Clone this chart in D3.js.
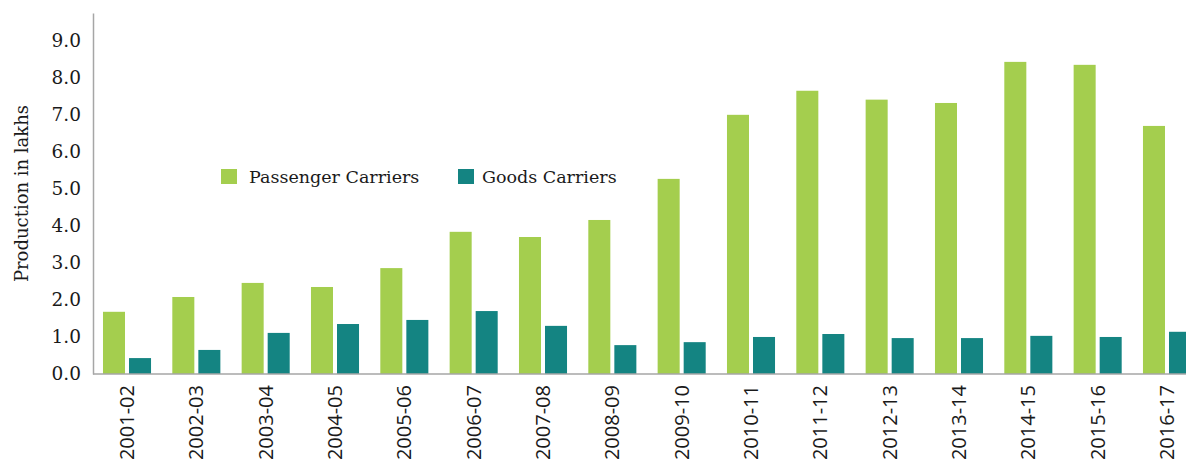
<!DOCTYPE html>
<html>
<head>
<meta charset="utf-8">
<script src="https://cdn.jsdelivr.net/npm/d3@7"></script>
<style>
  html, body { margin: 0; padding: 0; background: #fff; }
  svg { display: block; }
</style>
</head>
<body>
<svg id="chart" width="1186" height="461"></svg>
<script>
// Annual production of commercial three-wheelers (lakhs)
const years = ["2001-02","2002-03","2003-04","2004-05","2005-06","2006-07","2007-08","2008-09",
               "2009-10","2010-11","2011-12","2012-13","2013-14","2014-15","2015-16","2016-17"];
const passengerCarriers = [1.68, 2.08, 2.46, 2.35, 2.86, 3.84, 3.70, 4.16, 5.27, 7.00, 7.65, 7.41, 7.32, 8.43, 8.35, 6.70];
const goodsCarriers     = [0.43, 0.65, 1.11, 1.35, 1.46, 1.70, 1.30, 0.78, 0.86, 1.00, 1.08, 0.97, 0.97, 1.03, 1.00, 1.14];
const seriesNames = ["Passenger Carriers", "Goods Carriers"];
const yTicks = [0, 1, 2, 3, 4, 5, 6, 7, 8, 9];

const colors = ["#a4ce4e", "#148482"];
const serif = "'DejaVu Serif', serif";
const sans = "'Open Sans', sans-serif";

const svg = d3.select("#chart");
const left = 93, bottom = 374;

const x0 = d3.scaleBand().domain(years).range([left, 1201])
  .paddingInner(0.307).paddingOuter(0.144);
const x1 = d3.scaleBand().domain([0, 1]).range([0, x0.bandwidth()]).paddingInner(0.154);
const y = d3.scaleLinear().domain([0, 9.75]).range([bottom, 13]);

const data = years.map((yr, i) => ({ yr, vals: [passengerCarriers[i], goodsCarriers[i]] }));

// bars
const groups = svg.append("g").selectAll("g").data(data).join("g")
  .attr("transform", d => `translate(${x0(d.yr)},0)`);
groups.selectAll("rect").data(d => d.vals.map((v, k) => ({ v, k }))).join("rect")
  .attr("x", d => x1(d.k))
  .attr("width", x1.bandwidth())
  .attr("y", d => y(d.v))
  .attr("height", d => y(0) - y(d.v))
  .attr("fill", d => colors[d.k]);

// y axis
const yAxis = svg.append("g").attr("transform", `translate(${left},0)`)
  .call(d3.axisLeft(y).tickValues(yTicks).tickSize(0).tickPadding(12).tickFormat(d3.format(".1f")));
yAxis.select(".domain").attr("stroke", "#a6a6a6").attr("stroke-width", 1.5);
yAxis.selectAll("text").attr("font-family", serif).attr("font-size", 18.5).attr("fill", "#1a1a1a");

// x axis
const xAxis = svg.append("g").attr("transform", `translate(0,${bottom})`)
  .call(d3.axisBottom(x0).tickSize(0).tickPadding(0));
xAxis.select(".domain").attr("d", `M${left},0H1186`).attr("stroke", "#a6a6a6").attr("stroke-width", 1.5);
xAxis.selectAll("text")
  .attr("font-family", sans).attr("font-size", 20).attr("fill", "#1a1a1a")
  .attr("text-anchor", "end")
  .attr("transform", "rotate(-90)")
  .attr("x", -11).attr("y", 0).attr("dy", "0.35em");

// y title
svg.append("text")
  .attr("transform", "translate(28,193.5) rotate(-90)")
  .attr("text-anchor", "middle")
  .attr("font-family", serif).attr("font-size", 18).attr("fill", "#1a1a1a")
  .text("Production in lakhs");

// legend
const legendX = [221, 458];
const legendTextX = [28, 24];
const legend = svg.append("g").selectAll("g").data(seriesNames).join("g")
  .attr("transform", (d, i) => `translate(${legendX[i]},169)`);
legend.append("rect").attr("width", 16).attr("height", 15).attr("fill", (d, i) => colors[i]);
legend.append("text").attr("x", (d, i) => legendTextX[i]).attr("y", 14)
  .attr("font-family", serif).attr("font-size", 17.5).attr("fill", "#1a1a1a")
  .text(d => d);
</script>
</body>
</html>
